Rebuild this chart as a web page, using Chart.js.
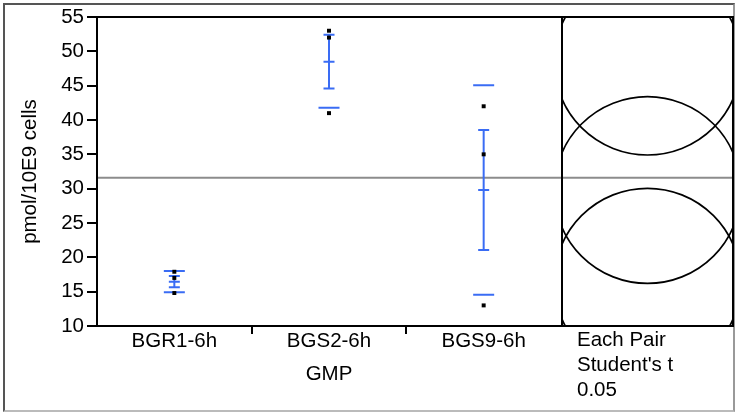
<!DOCTYPE html>
<html>
<head>
<meta charset="utf-8">
<title>GMP - pmol/10E9 cells</title>
<script src="https://cdn.jsdelivr.net/npm/chart.js@4.4.1/dist/chart.umd.min.js"></script>
<style>
  body { margin: 0; background: #fff; width: 736px; height: 414px; position: relative; overflow: hidden; }
  #frame { position: absolute; left: 3px; top: 3px; width: 728px; height: 405px; border: 2px solid; border-color: #555 #999 #bbb #555; }
  #mainbox { position: absolute; left: 0; top: 0; width: 562px; height: 414px; }
  #circlebox { position: absolute; left: 560px; top: 0; width: 176px; height: 414px; }
</style>
</head>
<body>
<div id="frame"></div>
<div id="mainbox"><canvas id="mainchart"></canvas></div>
<div id="circlebox"><canvas id="circlechart"></canvas></div>
<script>
// groups on the x axis
const groups = ['BGR1-6h', 'BGS2-6h', 'BGS9-6h']

// raw points per group
const bgr1Values = [17.9, 17.0, 14.8]
const bgs2Values = [53.0, 52.0, 41.0]
const bgs9Values = [42.0, 35.0, 13.0]

// group summaries
const groupMeans = [16.45, 48.5, 29.8]
const stdErrors = [0.82, 3.9, 8.74]
const stdDevs = [1.55, 6.7, 15.25]

const grandMean = 31.6

// comparison circle radius (each pair, student's t, 0.05)
const circleRadius = [13.6, 13.6, 13.6]

const yMin = 10
const yMax = 55
const yStep = 5

const panelLabel = ['Each Pair', "Student's t", '0.05']

Chart.defaults.font.family = "'Liberation Sans', Arial, Helvetica, sans-serif"
Chart.defaults.font.size = 20.5
Chart.defaults.color = '#000'

const blue = '#3a6cf4'
const gray = '#8c8c8c'
const frameBorder = { display: true, color: '#000', width: 2, z: 1 }

// hidden axis that only draws a frame line
function frameAxis(position) {
    return {
        type: 'linear',
        position: position,
        ticks: { display: false },
        grid: { display: false, drawTicks: false },
        border: frameBorder,
        afterFit: function (s) {
            if (position == 'top') s.height = 0
            else s.width = 0
        }
    }
}

const groupValues = [bgr1Values, bgs2Values, bgs9Values]

let pointData = []
let capData = []
let meanData = []
let sdData = []
for (let i = 0; i < groups.length; i++) {
    for (let j = 0; j < groupValues[i].length; j++) {
        pointData.push({ x: groups[i], y: groupValues[i][j] })
    }
    capData.push({ x: groups[i], y: groupMeans[i] - stdErrors[i] })
    capData.push({ x: groups[i], y: groupMeans[i] + stdErrors[i] })
    meanData.push({ x: groups[i], y: groupMeans[i] })
    sdData.push({ x: groups[i], y: groupMeans[i] - stdDevs[i] })
    sdData.push({ x: groups[i], y: groupMeans[i] + stdDevs[i] })
}

let mainSets = []
mainSets.push({ data: pointData, pointStyle: 'rect', pointRadius: 2.8, backgroundColor: '#000', borderWidth: 0 })
mainSets.push({ data: capData, pointStyle: 'line', pointRadius: 5.5, borderColor: blue, borderWidth: 2 })
mainSets.push({ data: meanData, pointStyle: 'line', pointRadius: 5.5, borderColor: blue, borderWidth: 2 })
mainSets.push({ data: sdData, pointStyle: 'line', pointRadius: 10.5, borderColor: blue, borderWidth: 2 })
for (let i = 0; i < groups.length; i++) {
    mainSets.push({
        data: [capData[2 * i], capData[2 * i + 1]],
        showLine: true, pointRadius: 0, borderColor: blue, borderWidth: 2
    })
}
mainSets.push({
    data: [{ x: 0, y: grandMean }, { x: 1, y: grandMean }],
    xAxisID: 'xl', showLine: true, pointRadius: 0, borderColor: gray, borderWidth: 2
})

new Chart(document.getElementById('mainchart'), {
    type: 'scatter',
    data: { labels: groups, datasets: mainSets },
    options: {
        responsive: true,
        maintainAspectRatio: false,
        animation: false,
        events: [],
        layout: { autoPadding: false, padding: { top: 17, left: 0, right: 1, bottom: 27 } },
        plugins: { legend: { display: false }, tooltip: { enabled: false } },
        scales: {
            x: {
                type: 'category',
                offset: true,
                ticks: { padding: -5, maxRotation: 0, autoSkip: false },
                grid: {
                    offset: true,
                    drawOnChartArea: false,
                    tickLength: 8,
                    lineWidth: 2,
                    color: function (c) { return (c.index === 1 || c.index === 2) ? '#000' : 'rgba(0,0,0,0)' }
                },
                border: frameBorder,
                title: { display: true, text: 'GMP', padding: { top: 0, bottom: 0 } },
                afterFit: function (s) { s.height = 61 }
            },
            xl: { type: 'linear', display: false, min: 0, max: 1 },
            y: {
                min: yMin,
                max: yMax,
                ticks: { stepSize: yStep, padding: 3 },
                grid: { drawOnChartArea: false, tickLength: 10, lineWidth: 2, color: '#000' },
                border: frameBorder,
                title: { display: true, text: 'pmol/10E9 cells', padding: { top: 18, bottom: 0 } },
                afterFit: function (s) { s.width = 97 }
            },
            x2: frameAxis('top')
        }
    }
})

// comparison circles, centred on the group means, clipped to the panel
const circlePlugin = {
    id: 'compareCircles',
    afterDatasetsDraw(chart) {
        const ctx = chart.ctx
        const area = chart.chartArea
        const xs = chart.scales.x
        const ys = chart.scales.y
        ctx.save()
        ctx.beginPath()
        ctx.rect(area.left, area.top, area.right - area.left, area.bottom - area.top)
        ctx.clip()
        ctx.strokeStyle = '#000'
        ctx.lineWidth = 1.7
        for (let i = 0; i < groupMeans.length; i++) {
            const cy = ys.getPixelForValue(groupMeans[i])
            const r = Math.abs(ys.getPixelForValue(groupMeans[i] + circleRadius[i]) - cy)
            ctx.beginPath()
            ctx.arc(xs.getPixelForValue(0), cy, r, 0, 2 * Math.PI)
            ctx.stroke()
        }
        ctx.restore()
    }
}

new Chart(document.getElementById('circlechart'), {
    type: 'scatter',
    data: {
        datasets: [
            {
                data: [{ x: -1, y: grandMean }, { x: 1, y: grandMean }],
                showLine: true, pointRadius: 0, borderColor: gray, borderWidth: 2
            }
        ]
    },
    plugins: [circlePlugin],
    options: {
        responsive: true,
        maintainAspectRatio: false,
        animation: false,
        events: [],
        layout: { autoPadding: false, padding: { top: 17, left: 1, right: 3, bottom: 0 } },
        plugins: { legend: { display: false }, tooltip: { enabled: false } },
        scales: {
            x: {
                type: 'linear',
                min: -1,
                max: 1,
                afterBuildTicks: function (s) { s.ticks = [{ value: -1 }] },
                ticks: {
                    align: 'start',
                    labelOffset: 15,
                    padding: 2,
                    maxRotation: 0,
                    autoSkip: false,
                    font: { size: 20.5, lineHeight: 1.22 },
                    callback: function () { return panelLabel }
                },
                grid: { display: false, drawTicks: false },
                border: frameBorder,
                afterFit: function (s) { s.height = 88 }
            },
            y: {
                min: yMin,
                max: yMax,
                ticks: { display: false },
                grid: { display: false, drawTicks: false },
                border: frameBorder,
                afterFit: function (s) { s.width = 0 }
            },
            x2: frameAxis('top'),
            y2: frameAxis('right')
        }
    }
})
</script>
</body>
</html>
